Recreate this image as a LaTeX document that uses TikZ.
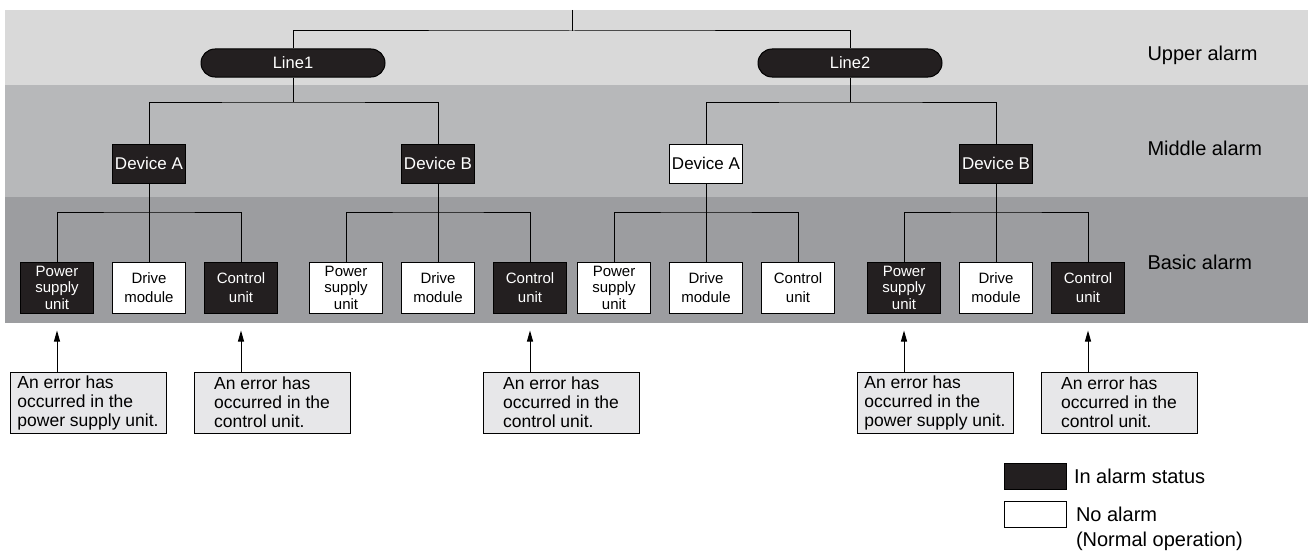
\documentclass[tikz,border=0pt]{standalone}
\usepackage{fontspec}
\setmainfont{Liberation Sans}
\usetikzlibrary{arrows.meta,positioning}
\definecolor{alarmblack}{HTML}{231F20}
\definecolor{upperband}{HTML}{D9D9D9}
\definecolor{middleband}{HTML}{B7B8BA}
\definecolor{basicband}{HTML}{9C9DA0}
\definecolor{notefill}{HTML}{E7E7E9}

\begin{document}
\begin{tikzpicture}[x=1pt, y=-1pt, line width=1pt,
  font=\fontsize{15}{19}\selectfont,
  box/.style={draw=black, minimum width=73pt, inner sep=1pt, align=center},
  alarm/.style={box, fill=alarmblack, text=white}, normal/.style={box, fill=white},
  dev/.style={minimum height=39pt, font=\fontsize{17}{19}\selectfont},
  part/.style={minimum height=51pt}, tight/.style={font=\fontsize{15}{16.5}\selectfont},
  linebox/.style={draw, fill=alarmblack, text=white, rounded corners=14pt, minimum width=184pt, minimum height=28pt, inner sep=0pt, font=\fontsize{16.5}{19}\selectfont},
  note/.style={draw, fill=notefill, minimum width=156pt, minimum height=61pt, inner sep=2pt, align=left, font=\fontsize{17.5}{19}\selectfont},
  tier/.style={anchor=base west, inner sep=0pt, font=\fontsize{20}{24}\selectfont},
  keytext/.style={inner sep=0pt, align=left, font=\fontsize{20}{25}\selectfont},
  pointer/.style={-{Triangle[length=11pt, width=6pt]}, shorten >=17pt}]
  \useasboundingbox (0,0) rectangle (1308,551);
  % alarm levels
  \fill[upperband] (5,10) rectangle (1308,85);
  \fill[middleband] (5,85) rectangle (1308,197);
  \fill[basicband] (5,197) rectangle (1308,323);
  \node[tier] (tupper) at (1147,60) {Upper alarm};
  \node[tier] (tmiddle) at (1147,155) {Middle alarm};
  \node[tier] (tbasic) at (1147,269) {Basic alarm};
  % lines and devices
  \node[linebox] (line1) at (293,63) {Line1};
  \node[linebox] (line2) at (850,63) {Line2};
  \node[alarm, dev] (devA1) at (149,163.5) {Device A};
  \node[alarm, dev] (devB1) at (438,163.5) {Device B};
  \node[normal, dev] (devA2) at (706,163.5) {Device A};
  \node[alarm, dev] (devB2) at (996,163.5) {Device B};
  % basic units
  \node[alarm, part, tight] (psuA1) at (57,287.5) {Power\\supply\\unit};
  \node[normal, part] (drvA1) at (149,287.5) {Drive\\module};
  \node[alarm, part] (ctlA1) at (241,287.5) {Control\\unit};
  \node[normal, part, tight] (psuB1) at (346,287.5) {Power\\supply\\unit};
  \node[normal, part] (drvB1) at (438,287.5) {Drive\\module};
  \node[alarm, part] (ctlB1) at (530,287.5) {Control\\unit};
  \node[normal, part, tight] (psuA2) at (614,287.5) {Power\\supply\\unit};
  \node[normal, part] (drvA2) at (706,287.5) {Drive\\module};
  \node[normal, part] (ctlA2) at (798,287.5) {Control\\unit};
  \node[alarm, part, tight] (psuB2) at (904,287.5) {Power\\supply\\unit};
  \node[normal, part] (drvB2) at (996,287.5) {Drive\\module};
  \node[alarm, part] (ctlB2) at (1088,287.5) {Control\\unit};
  % tree
  \coordinate (top) at (572,10); \coordinate (bus) at (572,31);
  \coordinate (j1) at (293,102); \coordinate (j2) at (850,102);
  \coordinate (jA1) at (149,212); \coordinate (jB1) at (438,212);
  \coordinate (jA2) at (706,212); \coordinate (jB2) at (996,212);
  \draw (top) -- (bus); \draw (line1) |- (bus) -| (line2);
  \draw (line1) -- (j1); \draw (devA1) |- (j1) -| (devB1);
  \draw (line2) -- (j2); \draw (devA2) |- (j2) -| (devB2);
  \draw (devA1) -- (drvA1); \draw (psuA1) |- (jA1) -| (ctlA1);
  \draw (devB1) -- (drvB1); \draw (psuB1) |- (jB1) -| (ctlB1);
  \draw (devA2) -- (drvA2); \draw (psuA2) |- (jA2) -| (ctlA2);
  \draw (devB2) -- (drvB2); \draw (psuB2) |- (jB2) -| (ctlB2);
  % error notes
  \node[note, below=58pt of psuA1, xshift=31pt] (note1) {An error has\\occurred in the\\power supply unit.};
  \node[note, below=58pt of ctlA1, xshift=31pt] (note2) {An error has\\occurred in the\\control unit.};
  \node[note, below=58pt of ctlB1, xshift=31pt] (note3) {An error has\\occurred in the\\control unit.};
  \node[note, below=58pt of psuB2, xshift=31pt] (note4) {An error has\\occurred in the\\power supply unit.};
  \node[note, below=58pt of ctlB2, xshift=31pt] (note5) {An error has\\occurred in the\\control unit.};
  \draw[pointer] (note1.north -| psuA1) -- (psuA1);
  \draw[pointer] (note2.north -| ctlA1) -- (ctlA1);
  \draw[pointer] (note3.north -| ctlB1) -- (ctlB1);
  \draw[pointer] (note4.north -| psuB2) -- (psuB2);
  \draw[pointer] (note5.north -| ctlB2) -- (ctlB2);
  % legend
  \node[alarm, minimum width=62pt, minimum height=26pt] (keyon) at (1035,476) {};
  \node[keytext, right=7pt of keyon] (ontext) {In alarm status};
  \node[normal, minimum width=62pt, minimum height=26pt] (keyoff) at (1035,514) {};
  \node[keytext, anchor=north west] (offtext) at ([xshift=9pt, yshift=-6pt]keyoff.north east) {No alarm\\(Normal operation)};
\end{tikzpicture}
\end{document}
